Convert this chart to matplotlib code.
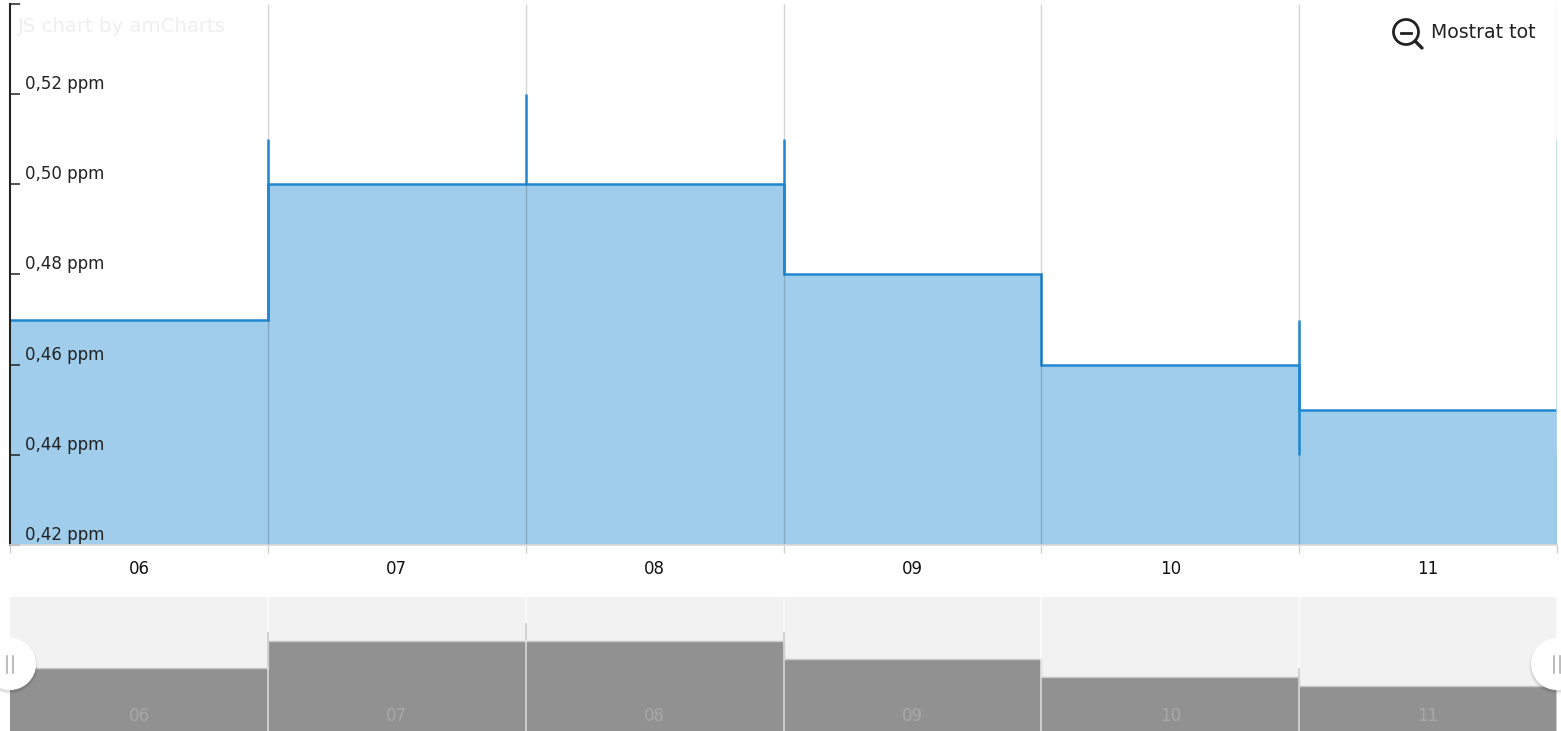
import matplotlib
matplotlib.use('Agg')
import matplotlib.pyplot as plt
from matplotlib.patches import Circle

# данные
months = ['06', '07', '08', '09', '10', '11']
ppm = [0.47, 0.50, 0.50, 0.48, 0.46, 0.45]
# выбросы на границах месяцев: граница, низ, верх
spike_edges = [1, 2, 3, 5, 6]
spike_low = [0.47, 0.50, 0.48, 0.44, 0.44]
spike_high = [0.51, 0.52, 0.51, 0.47, 0.51]
y_ticks = [0.42, 0.44, 0.46, 0.48, 0.50, 0.52, 0.54]
y_labels = ['0,42 ppm', '0,44 ppm', '0,46 ppm', '0,48 ppm', '0,50 ppm', '0,52 ppm', '']
zoom_label = 'Mostrat tot'
credit = 'JS chart by amCharts'

W, H = 1561, 731
edges = list(range(len(months) + 1))
centers = [i + 0.5 for i in range(len(months))]

plt.rcParams['font.family'] = 'DejaVu Sans'
fig = plt.figure(figsize=(W / 100, H / 100), dpi=100, facecolor='white')


def box(x0, y0, x1, y1):
    return [x0 / W, 1 - y1 / H, (x1 - x0) / W, (y1 - y0) / H]


# основной график
ax = fig.add_axes(box(10, 4, 1557, 545))
ax.stairs(ppm, edges, baseline=0.42, fill=True, color='#a0cdec', lw=0)
ax.vlines(edges[1:], 0.42, 0.54, color='black', alpha=0.17, lw=1)
ax.stairs(ppm, edges, baseline=None, color='#2087d2', lw=1.8)
ax.vlines(spike_edges, spike_low, spike_high, lw=1.8,
          colors=['#2087d2'] * (len(spike_edges) - 1) + ['#b5d6ee'])
ax.set_xlim(0, 6)
ax.set_ylim(0.42, 0.54)
for s in ['top', 'right']:
    ax.spines[s].set_visible(False)
ax.spines['left'].set_color('#222222')
ax.spines['left'].set_linewidth(1.5)
ax.spines['bottom'].set_color('#d8d8d8')
ax.spines['bottom'].set_linewidth(1.2)
ax.set_yticks(y_ticks)
ax.set_yticklabels([])
ax.tick_params(axis='y', direction='in', length=7.5, width=1.1, color='#222222')
ax.set_xticks(centers, months)
ax.set_xticks(edges, minor=True)
ax.tick_params(axis='x', which='major', length=0, pad=11, labelsize=12, labelcolor='#111111')
ax.tick_params(axis='x', which='minor', length=6, width=1, color='#d0d0d0')
for v, t in zip(y_ticks, y_labels):
    ax.annotate(t, (0, v), xycoords=ax.get_yaxis_transform(), xytext=(15, 10),
                textcoords='offset pixels', fontsize=12, color='#222222',
                ha='left', va='center', annotation_clip=False)

# навигатор
nav = fig.add_axes(box(10, 597, 1557, 731))
nav.axis('off')
nav.add_patch(plt.Rectangle((0, 0), 1, 1, transform=nav.transAxes, color='#f2f2f2', zorder=-1))
nav.stairs(ppm, edges, baseline=0.40, fill=True, color='#919191', lw=0)
nav.stairs(ppm, edges, baseline=None, color='#c8c8c8', lw=1)
nav.vlines(edges[1:], 0.40, 0.5489, color='white', alpha=0.65, lw=1.2)
nav.vlines(spike_edges[:-1], spike_low[:-1], spike_high[:-1], color='#cccccc', lw=1.2)
nav.set_xlim(0, 6)
nav.set_ylim(0.40, 0.5489)
for c, t in zip(centers, months):
    nav.annotate(t, (c, 0), xycoords=nav.get_xaxis_transform(), xytext=(0, 15),
                 textcoords='offset pixels', fontsize=12, color='#a8a8a8',
                 ha='center', va='center', annotation_clip=False)

# надписи и значки в пикселях картинки
over = fig.add_axes([0, 0, 1, 1])
over.set_xlim(0, W)
over.set_ylim(H, 0)
over.axis('off')
over.text(17, 27, credit, fontsize=14.2, color='#efefef', ha='left', va='center')
over.text(1431, 32, zoom_label, fontsize=13.6, color='#222222', ha='left', va='center')
over.add_patch(Circle((1406, 32), 12.5, fc='none', ec='#222222', lw=2))
over.plot([1401, 1411], [33, 33], color='#222222', lw=2)
over.plot([1415, 1422], [41, 48], color='#222222', lw=2.4, solid_capstyle='round')
for hx in [10, 1557]:
    for r, a in [(28, 0.03), (27, 0.04), (26.5, 0.05)]:
        over.add_patch(Circle((hx, 666), r, fc='black', ec='none', alpha=a))
    over.add_patch(Circle((hx, 664), 26, fc='white', ec='none'))
    over.plot([hx - 3, hx - 3], [656, 673], color='#b0b0b0', lw=1.2)
    over.plot([hx + 3, hx + 3], [656, 673], color='#b0b0b0', lw=1.2)

fig.savefig('out.png', dpi=100)
